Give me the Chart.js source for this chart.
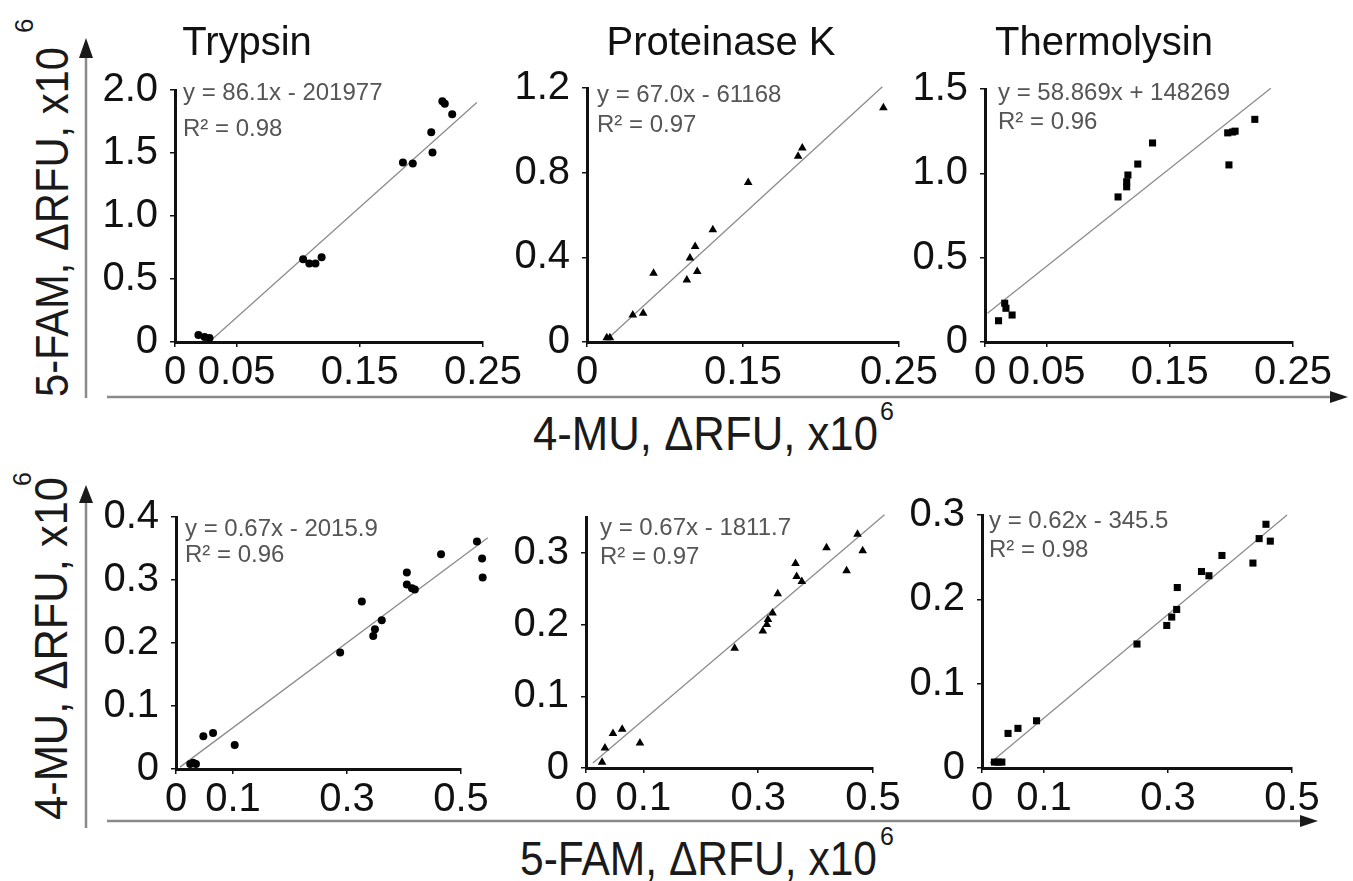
<!DOCTYPE html>
<html>
<head>
<meta charset="utf-8">
<script src="https://cdn.jsdelivr.net/npm/chart.js@4"></script>
<style>
  body { margin: 0; background: #fff; width: 1353px; height: 881px; position: relative; overflow: hidden; }
  canvas { position: absolute; }
  svg { position: absolute; left: 0; top: 0; font-family: "Liberation Sans", Arial, sans-serif; fill: #1a1a1a; }
</style>
</head>
<body>
<svg width="1353" height="881">
  <!-- shared axes with arrows -->
  <g stroke="#8a8a8a" stroke-width="2.5">
    <line x1="86" y1="398" x2="86" y2="55"/>
    <line x1="107" y1="397" x2="1332" y2="397"/>
    <line x1="86" y1="828" x2="86" y2="500"/>
    <line x1="107" y1="821" x2="1302" y2="821"/>
  </g>
  <g stroke="none" fill="#1a1a1a">
    <polygon points="86,38 79,58 93,58"/>
    <polygon points="1348,397 1330,391 1330,403"/>
    <polygon points="86,485 79,503 93,503"/>
    <polygon points="1318,821 1300,815 1300,827"/>
  </g>
  <!-- axis titles -->
  <text transform="translate(68,397) rotate(-90) scale(1,1.12)" font-size="42" textLength="350" lengthAdjust="spacingAndGlyphs">5-FAM, ΔRFU, x10</text>
  <text transform="translate(33,33) rotate(-90)" font-size="26">6</text>
  <text transform="translate(533,450) scale(1,1.15)" font-size="42" textLength="345" lengthAdjust="spacingAndGlyphs">4-MU, ΔRFU, x10</text>
  <text x="880" y="420" font-size="25">6</text>
  <text transform="translate(67,820) rotate(-90) scale(1,1.12)" font-size="42" textLength="343" lengthAdjust="spacingAndGlyphs">4-MU, ΔRFU, x10</text>
  <text transform="translate(31,486) rotate(-90)" font-size="25">6</text>
  <text transform="translate(520,875) scale(1,1.15)" font-size="42" textLength="357" lengthAdjust="spacingAndGlyphs">5-FAM, ΔRFU, x10</text>
  <text x="880" y="845" font-size="25">6</text>
</svg>
<canvas id="p1"></canvas>
<canvas id="p2"></canvas>
<canvas id="p3"></canvas>
<canvas id="p4"></canvas>
<canvas id="p5"></canvas>
<canvas id="p6"></canvas>
<script>
// ---- data (values in x10^6 RFU) ----

// top row: 4-MU (x) vs 5-FAM (y)
const trypsinX = [0.019, 0.024, 0.028, 0.104, 0.109, 0.114, 0.119, 0.185, 0.193, 0.208, 0.209, 0.217, 0.219, 0.225]
const trypsinY = [0.056, 0.040, 0.032, 0.656, 0.624, 0.624, 0.672, 1.424, 1.416, 1.664, 1.504, 1.91, 1.89, 1.808]
const trypsinFitX = [0.03, 0.245]
const trypsinFitY = [0.02, 1.90]

const protKX = [0.019, 0.022, 0.044, 0.054, 0.064, 0.096, 0.106, 0.099, 0.104, 0.121, 0.155, 0.203, 0.207, 0.285]
const protKY = [0.02, 0.02, 0.128, 0.136, 0.325, 0.293, 0.333, 0.397, 0.451, 0.530, 0.754, 0.877, 0.917, 1.107]
const protKFitX = [0.022, 0.284]
const protKFitY = [0.025, 1.206]

const thermoX = [0.011, 0.016, 0.017, 0.022, 0.108, 0.115, 0.115, 0.116, 0.124, 0.136, 0.198, 0.197, 0.201, 0.203, 0.219]
const thermoY = [0.126, 0.23, 0.20, 0.16, 0.86, 0.92, 0.95, 0.99, 1.055, 1.18, 1.05, 1.24, 1.245, 1.25, 1.32]
const thermoFitX = [0.002, 0.232]
const thermoFitY = [0.17, 1.505]

// bottom row: 5-FAM (x) vs 4-MU (y)
const trypsin2X = [0.025, 0.030, 0.035, 0.048, 0.065, 0.103, 0.288, 0.326, 0.346, 0.349, 0.361, 0.405, 0.405, 0.414, 0.419, 0.465, 0.538, 0.528, 0.537]
const trypsin2Y = [0.008, 0.010, 0.008, 0.052, 0.057, 0.038, 0.185, 0.266, 0.211, 0.222, 0.236, 0.312, 0.293, 0.287, 0.285, 0.341, 0.304, 0.361, 0.334]
const trypsin2FitX = [0.007, 0.547]
const trypsin2FitY = [0.003, 0.367]

const protK2X = [0.028, 0.033, 0.047, 0.063, 0.094, 0.259, 0.308, 0.315, 0.317, 0.325, 0.334, 0.365, 0.367, 0.376, 0.419, 0.454, 0.473, 0.482]
const protK2Y = [0.008, 0.028, 0.048, 0.054, 0.035, 0.167, 0.191, 0.200, 0.207, 0.216, 0.243, 0.285, 0.267, 0.260, 0.307, 0.275, 0.326, 0.303]
const protK2FitX = [0.012, 0.52]
const protK2FitY = [0.007, 0.353]

const thermo2X = [0.020, 0.026, 0.032, 0.042, 0.058, 0.088, 0.250, 0.298, 0.306, 0.314, 0.315, 0.354, 0.366, 0.387, 0.437, 0.447, 0.458, 0.465]
const thermo2Y = [0.007, 0.007, 0.007, 0.041, 0.047, 0.056, 0.147, 0.169, 0.179, 0.188, 0.214, 0.233, 0.228, 0.252, 0.243, 0.272, 0.289, 0.269]
const thermo2FitX = [0.013, 0.492]
const thermo2FitY = [0.006, 0.300]

// ticks
const topXTicks = [0, 0.05, 0.15, 0.25]
const topXLabels = ['0', '0.05', '0.15', '0.25']
const protKXTicks = [0, 0.15, 0.3]
const protKXLabels = ['0', '0.15', '0.25']
const bottomXTicks = [0, 0.1, 0.3, 0.5]
const bottomXLabels = ['0', '0.1', '0.3', '0.5']

const trypsinYTicks = [0, 0.5, 1, 1.5, 2]
const trypsinYLabels = ['0', '0.5', '1.0', '1.5', '2.0']
const protKYTicks = [0, 0.4, 0.8, 1.2]
const protKYLabels = ['0', '0.4', '0.8', '1.2']
const thermoYTicks = [0, 0.5, 1, 1.5]
const thermoYLabels = ['0', '0.5', '1.0', '1.5']
const trypsin2YTicks = [0, 0.1, 0.2, 0.3, 0.4]
const trypsin2YLabels = ['0', '0.1', '0.2', '0.3', '0.4']
const smallYTicks = [0, 0.1, 0.2, 0.3]
const smallYLabels = ['0', '0.1', '0.2', '0.3']

// regression annotations
const eqTrypsin = ['y = 86.1x - 201977', 'R² = 0.98']
const eqProtK = ['y = 67.0x - 61168', 'R² = 0.97']
const eqThermo = ['y = 58.869x + 148269', 'R² = 0.96']
const eqTrypsin2 = ['y = 0.67x - 2015.9', 'R² = 0.96']
const eqProtK2 = ['y = 0.67x - 1811.7', 'R² = 0.97']
const eqThermo2 = ['y = 0.62x - 345.5', 'R² = 0.98']

const FONT = '"Liberation Sans", Arial, sans-serif'
const INK = '#111'

// draws the fit equation text inside the plot area
const eqPlugin = {
    id: 'eq',
    afterDraw (chart, args, opts) {
        const ctx = chart.ctx
        const area = chart.chartArea
        ctx.save()
        ctx.font = '24px ' + FONT
        ctx.fillStyle = '#555'
        ctx.textBaseline = 'middle'
        opts.lines.forEach((t, i) => {
            ctx.fillText(t, area.left + opts.dx, area.top + opts.dy[i])
        })
        ctx.restore()
    }
}

function pts (xs, ys) {
    return xs.map((x, i) => ({x: x, y: ys[i]}))
}

function panel (id, p) {
    const a = p.area
    const padL = 20, padR = 50, axisH = 60
    // y axis box must hold its labels (they are clipped to it); titles sit
    // off-centre, so an empty right-hand axis shifts the title box
    let yW = 110, spacer = 0
    if (p.titleX) {
        yW = Math.max(80, a.l - (2 * p.titleX - a.r))
        spacer = 2 * p.titleX - a.l + yW - a.r
    }
    const x0 = a.l - yW - padL
    const padT = p.title ? 24 : 30
    const y0 = p.title ? 0 : a.t - padT
    const W = a.r + spacer + padR - x0
    const H = a.b + axisH - y0

    const c = document.getElementById(id)
    c.width = W
    c.height = H
    c.style.left = x0 + 'px'
    c.style.top = y0 + 'px'

    const tickFont = {size: 40, family: FONT, lineHeight: 1}

    new Chart(c, {
        type: 'scatter',
        data: {
            datasets: [{
                data: pts(p.xs, p.ys),
                pointStyle: p.marker,
                pointRadius: p.radius,
                backgroundColor: '#000',
                // wide invisible border: points just past the axis end still get drawn
                borderColor: 'rgba(0,0,0,0)',
                borderWidth: 25,
                clip: false
            }, {
                data: pts(p.fitX, p.fitY),
                showLine: true,
                borderColor: '#8c8c8c',
                borderWidth: 1.3,
                pointRadius: 0,
                clip: false
            }]
        },
        options: {
            responsive: false,
            animation: false,
            devicePixelRatio: 1,
            layout: {padding: {left: padL, right: padR, top: padT, bottom: 0}},
            scales: {
                x: {
                    type: 'linear', min: 0, max: p.xMax,
                    afterFit: s => { s.height = axisH },
                    afterBuildTicks: s => { s.ticks = p.xTicks.map(v => ({value: v})) },
                    ticks: {autoSkip: false, maxRotation: 0, padding: 6, color: INK, font: tickFont,
                        callback: (v, i) => p.xLabels[i]},
                    grid: {drawOnChartArea: false, tickLength: 5, color: INK, lineWidth: 1.5},
                    border: {color: INK, width: 3}
                },
                y: {
                    type: 'linear', min: 0, max: p.yMax,
                    afterFit: s => { s.width = yW },
                    afterBuildTicks: s => { s.ticks = p.yTicks.map(v => ({value: v})) },
                    ticks: {autoSkip: false, padding: 12, color: INK, font: tickFont,
                        callback: (v, i) => p.yLabels[i]},
                    grid: {drawOnChartArea: false, tickLength: 5, color: INK, lineWidth: 1.5},
                    border: {color: INK, width: 3}
                },
                spacer: {
                    type: 'linear', position: 'right', display: spacer > 0,
                    afterFit: s => { s.width = spacer },
                    ticks: {display: false},
                    grid: {display: false},
                    border: {display: false}
                }
            },
            plugins: {
                legend: {display: false},
                tooltip: {enabled: false},
                title: {
                    display: !!p.title,
                    text: p.title || '',
                    color: INK,
                    font: {size: 40, family: FONT, weight: 'normal', lineHeight: 1},
                    padding: {top: 0, bottom: a.t - padT - 40}
                },
                eq: {lines: p.eq, dx: p.eqDx, dy: p.eqDy}
            }
        },
        plugins: [eqPlugin]
    })
}

panel('p1', {
    title: 'Trypsin', titleX: 247, area: {l: 175, t: 90, r: 483, b: 342},
    xs: trypsinX, ys: trypsinY, fitX: trypsinFitX, fitY: trypsinFitY,
    marker: 'circle', radius: 4,
    xMax: 0.25, xTicks: topXTicks, xLabels: topXLabels,
    yMax: 2.0, yTicks: trypsinYTicks, yLabels: trypsinYLabels,
    eq: eqTrypsin, eqDx: 8, eqDy: [3, 39]
})
panel('p2', {
    title: 'Proteinase K', titleX: 721, area: {l: 587, t: 88, r: 899, b: 342},
    xs: protKX, ys: protKY, fitX: protKFitX, fitY: protKFitY,
    marker: 'triangle', radius: 5,
    xMax: 0.3, xTicks: protKXTicks, xLabels: protKXLabels,
    yMax: 1.2, yTicks: protKYTicks, yLabels: protKYLabels,
    eq: eqProtK, eqDx: 10, eqDy: [7, 37]
})
panel('p3', {
    title: 'Thermolysin', titleX: 1104, area: {l: 985, t: 89, r: 1293, b: 342},
    xs: thermoX, ys: thermoY, fitX: thermoFitX, fitY: thermoFitY,
    marker: 'rect', radius: 5,
    xMax: 0.25, xTicks: topXTicks, xLabels: topXLabels,
    yMax: 1.5, yTicks: thermoYTicks, yLabels: thermoYLabels,
    eq: eqThermo, eqDx: 13, eqDy: [4, 33]
})
panel('p4', {
    area: {l: 176, t: 515, r: 461, b: 769},
    xs: trypsin2X, ys: trypsin2Y, fitX: trypsin2FitX, fitY: trypsin2FitY,
    marker: 'circle', radius: 4,
    xMax: 0.5, xTicks: bottomXTicks, xLabels: bottomXLabels,
    yMax: 0.4, yTicks: trypsin2YTicks, yLabels: trypsin2YLabels,
    eq: eqTrypsin2, eqDx: 9, eqDy: [12, 38]
})
panel('p5', {
    area: {l: 586, t: 515, r: 873, b: 768},
    xs: protK2X, ys: protK2Y, fitX: protK2FitX, fitY: protK2FitY,
    marker: 'triangle', radius: 5,
    xMax: 0.5, xTicks: bottomXTicks, xLabels: bottomXLabels,
    yMax: 0.35, yTicks: smallYTicks, yLabels: smallYLabels,
    eq: eqProtK2, eqDx: 14, eqDy: [11, 40]
})
panel('p6', {
    area: {l: 982, t: 513, r: 1292, b: 768},
    xs: thermo2X, ys: thermo2Y, fitX: thermo2FitX, fitY: thermo2FitY,
    marker: 'rect', radius: 5,
    xMax: 0.5, xTicks: bottomXTicks, xLabels: bottomXLabels,
    yMax: 0.3, yTicks: smallYTicks, yLabels: smallYLabels,
    eq: eqThermo2, eqDx: 7, eqDy: [6, 35]
})
</script>
</body>
</html>
